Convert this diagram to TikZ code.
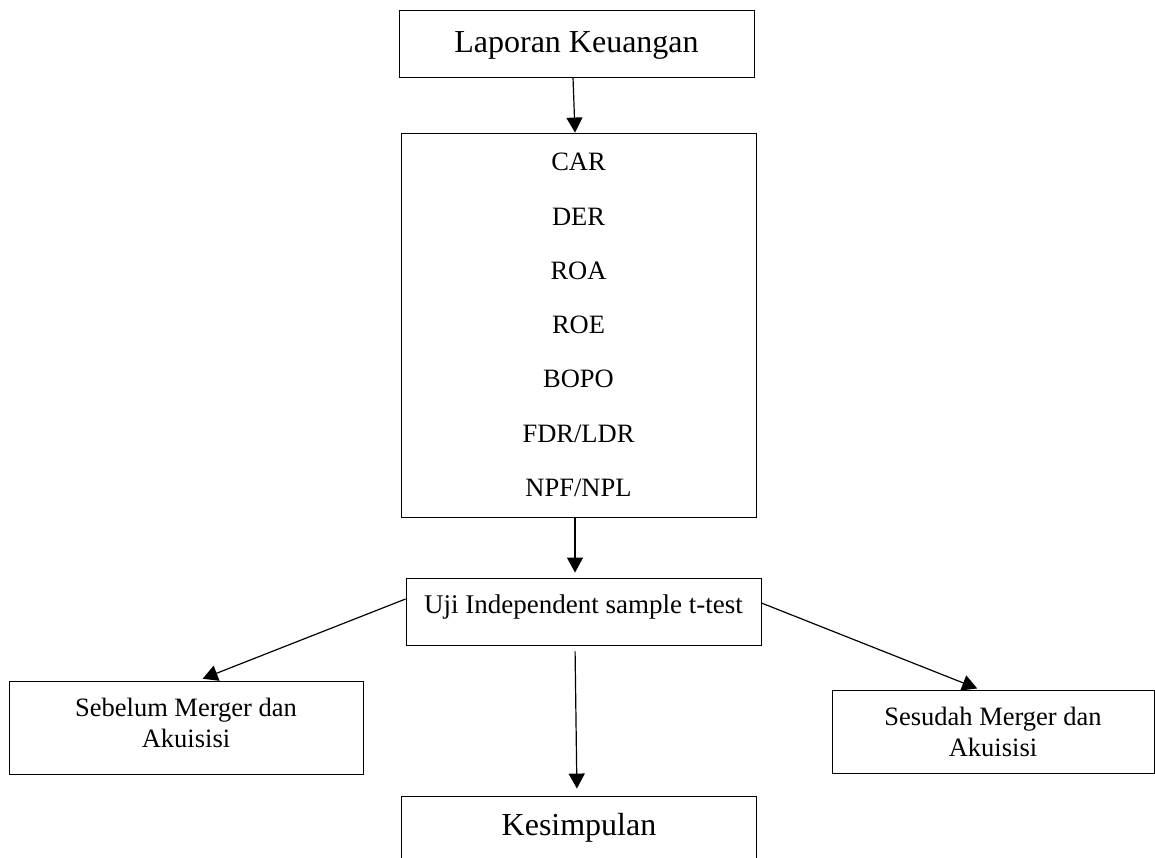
\documentclass[tikz,border=0pt]{standalone}
\usepackage{fontspec}
\setmainfont{Liberation Serif}
\usetikzlibrary{arrows.meta}

\begin{document}
\begin{tikzpicture}[x=1pt,y=-1pt,
  kotak/.style={draw,line width=.9pt,inner sep=0pt,minimum width=355pt},
  panah/.style={-{Triangle[length=15pt,width=16pt]},line width=1.2pt}]
\clip (0,0) rectangle (1155,857);
\node[kotak,anchor=base,text height=41.5pt,text depth=25pt,font=\fontsize{32}{38}\selectfont] (lapor) at (576.5,52) {Laporan Keuangan};
\node[kotak,minimum height=384pt,align=center,font=\fontsize{26.5}{54.3}\selectfont] (rasio) at (578.5,325) {CAR\\DER\\ROA\\ROE\\BOPO\\FDR/LDR\\NPF/NPL};
\node[kotak,anchor=base,text height=35pt,text depth=32pt,font=\fontsize{27}{32}\selectfont] (uji) at (583.5,613) {Uji Independent sample t-test};
\node[kotak,minimum width=354pt,minimum height=93pt,align=center,font=\fontsize{26.5}{31}\selectfont] (sebelum) at (186,727.5) {Sebelum Merger dan\\Akuisisi\rule[-10pt]{0pt}{10pt}};
\node[kotak,minimum width=322pt,minimum height=83pt,align=center,font=\fontsize{26.5}{31}\selectfont] (sesudah) at (993,731.5) {Sesudah Merger dan\\Akuisisi};
\node[kotak,anchor=base,text height=39pt,text depth=30pt,font=\fontsize{32}{38}\selectfont] (simpul) at (579,835) {Kesimpulan};
\draw[panah] ([xshift=-3.5pt]lapor.south) -- ([xshift=-3.5pt]rasio.north);
\draw[panah,shorten >=5pt] ([xshift=-3.5pt]rasio.south) -- ([xshift=-8.5pt]uji.north);
\draw[panah,shorten >=5pt] ([yshift=12.5pt]uji.west) -- ([xshift=12pt]sebelum.north);
\draw[panah,shorten >=3pt] ([yshift=8.5pt]uji.east) -- ([xshift=-13pt]sesudah.north);
\draw[panah,shorten <=6pt,shorten >=7pt] ([xshift=-8.5pt]uji.south) -- ([xshift=-2pt]simpul.north);
\end{tikzpicture}
\end{document}
